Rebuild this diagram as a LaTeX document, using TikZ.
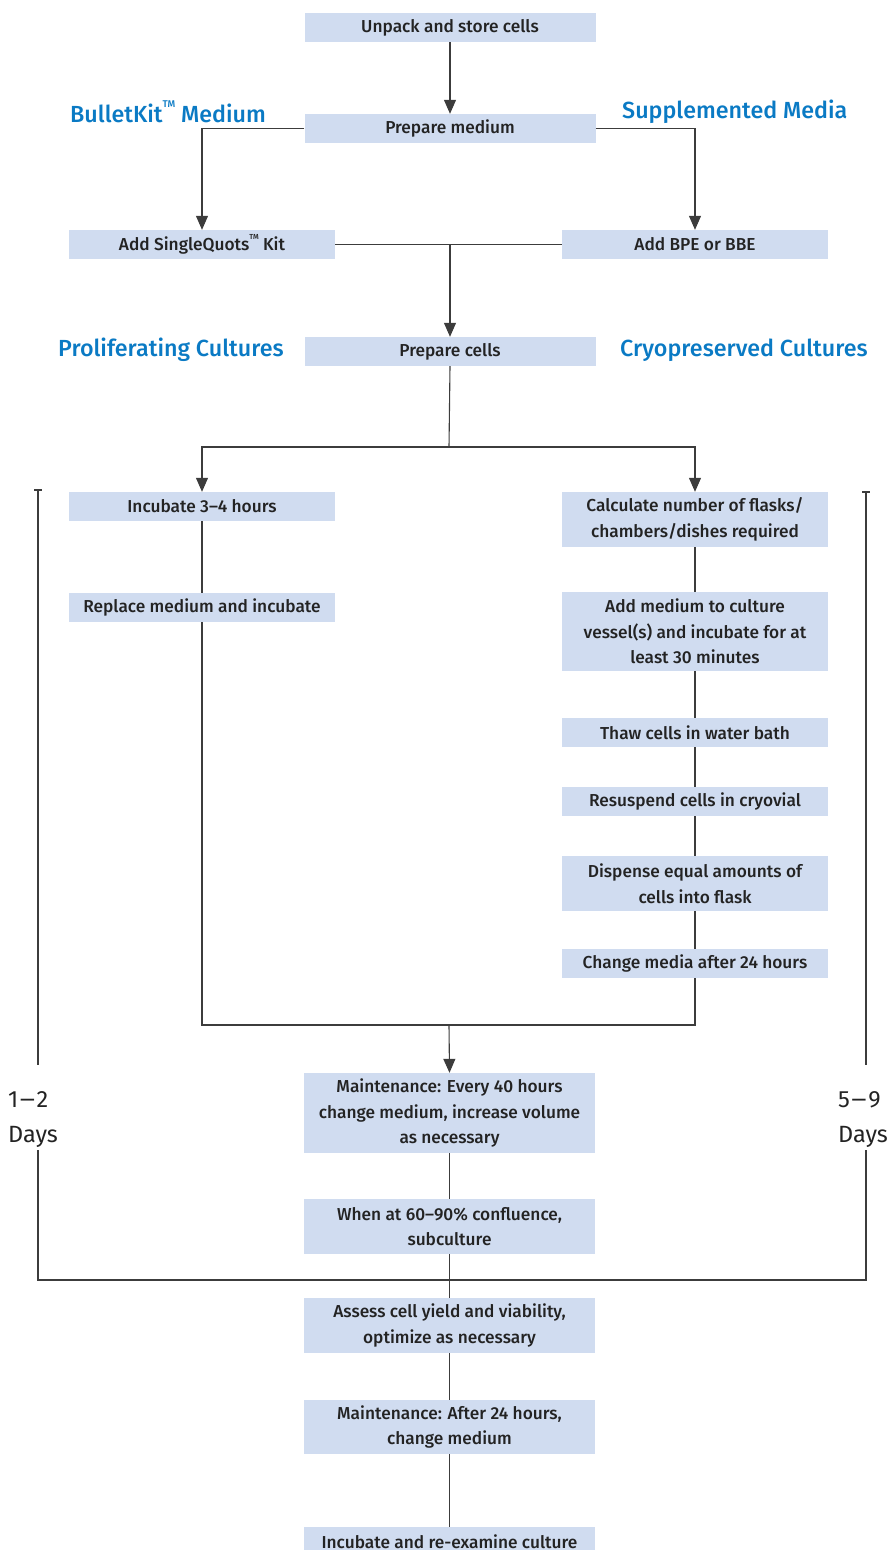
\documentclass[tikz,border=0pt]{standalone}
\usepackage{fontspec}
\usepackage{graphicx}
\setmainfont{Fira Sans}[UprightFont=* Medium]
\newfontfamily\daysfont{Fira Sans}
\usetikzlibrary{arrows.meta}
\newcommand{\tmark}{\raisebox{0.62em}{\scalebox{0.42}{TM}}}
\newcommand{\rdash}{\kern1.5pt\scalebox{1.25}[1]{–}\kern1.5pt}
\definecolor{boxfill}{RGB}{208,220,240}
\definecolor{linec}{RGB}{60,60,60}
\definecolor{titleblue}{RGB}{10,122,196}
\definecolor{textc}{RGB}{35,35,35}
\tikzset{
  stepbox/.style={fill=boxfill, draw=none, text=textc, align=center, inner sep=0pt,
    font=\fontsize{17.3}{25.5}\selectfont, minimum height=29pt},
  wbox/.style={stepbox, minimum width=291pt},
  sbox/.style={stepbox, minimum width=266pt},
  conn/.style={draw=linec, line width=1.1pt},
  arr/.style={conn, -{Triangle[width=12pt,length=14pt]}},
  titl/.style={text=titleblue, font=\fontsize{23.3}{26}\selectfont, anchor=west, inner sep=0pt},
  days/.style={text=textc, font=\daysfont\fontsize{23.5}{35}\selectfont, align=left, anchor=north west, inner sep=0pt}
}
\begin{document}
\begin{tikzpicture}[x=1pt,y=-1pt]
\useasboundingbox (0,0) rectangle (889,1550);
\begin{scope}
\clip (0,0) rectangle (889,1550);
% boxes
\node[wbox] (un) at (450,27.5) {Unpack and store cells};
\node[wbox] (pm) at (450,128.5) {Prepare medium};
\node[sbox] (sq) at (202,244.5) {Add SingleQuots\tmark{} Kit};
\node[sbox] (bpe) at (695,244.5) {Add BPE or BBE};
\node[wbox] (pc) at (450,351.5) {Prepare cells};
\node[sbox] (inc) at (202,506.5) {Incubate 3–4 hours};
\node[sbox] (rep) at (202,607.5) {Replace medium and incubate};
\node[sbox, minimum height=55pt] (calc) at (695,519.5) {Calculate number of flasks/\\chambers/dishes required};
\node[sbox, minimum height=79pt] (am) at (695,631.5) {Add medium to culture\\vessel(s) and incubate for at\\least 30 minutes};
\node[sbox] (thaw) at (695,732.5) {Thaw cells in water bath};
\node[sbox] (res) at (695,801.5) {Resuspend cells in cryovial};
\node[sbox, minimum height=55pt] (disp) at (695,883.5) {Dispense equal amounts of\\cells into flask};
\node[sbox] (chg) at (695,963.5) {Change media after 24 hours};
\node[wbox, minimum height=80pt] (mt) at (449.5,1113) {Maintenance: Every 40 hours\\change medium, increase volume\\as necessary};
\node[wbox, minimum height=55pt] (wh) at (449.5,1226.5) {When at 60–90\% confluence,\\subculture};
\node[wbox, minimum height=55pt] (as) at (449.5,1325.5) {Assess cell yield and viability,\\optimize as necessary};
\node[wbox, minimum height=54pt] (m24) at (449.5,1427) {Maintenance: After 24 hours,\\change medium};
\node[wbox] (ire) at (449.5,1541.5) {Incubate and re-examine culture};
% titles
\node[titl] (tbk) at (70,112) {BulletKit\tmark{} Medium};
\node[titl] (tsm) at (622,112) {Supplemented Media};
\node[titl] (tpc) at (58,350) {Proliferating Cultures};
\node[titl] (tcc) at (620,350) {Cryopreserved Cultures};
% day labels
\node[days] (d12) at (8,1091) {1\rdash 2\\Days};
\node[days] (d59) at (838,1091) {5\rdash 9\\Days};
% coordinates
\coordinate (split) at (449,447);
\coordinate (join) at (449,1025);
\coordinate (lt) at (38,490);
\coordinate (rt) at (866,492);
\coordinate (lb) at (38,1065);
\coordinate (rb) at (866,1065);
\coordinate (lc) at (38,1150);
\coordinate (rc) at (866,1150);
\coordinate (bl) at (38,1280);
\coordinate (br) at (866,1280);
% connectors
\draw[arr] (un.south) -- (pm.north);
\draw[arr] (pm.west) -| (sq.north);
\draw[arr] (pm.east) -| (bpe.north);
\draw[conn] (sq.east) -- (bpe.west);
\draw[arr] (sq.east -| pc.north) -- (pc.north);
\draw[conn] (pc.south) -- (split);
\draw[arr] (split) -| (inc.north);
\draw[arr] (split) -| (calc.north);
\draw[conn] (inc.south) -- (rep.north);
\draw[conn] (rep.south) -- (rep.south |- join) -- (chg.south |- join) -- (chg.south);
\draw[conn] (calc.south) -- (am.north);
\draw[conn] (am.south) -- (thaw.north);
\draw[conn] (thaw.south) -- (res.north);
\draw[conn] (res.south) -- (disp.north);
\draw[conn] (disp.south) -- (chg.north);
\draw[arr] (join) -- (mt.north);
\draw[conn] (mt.south) -- (wh.north);
\draw[conn] (wh.south) -- (as.north);
\draw[conn] (as.south) -- (m24.north);
\draw[conn] (m24.south) -- (ire.north);
% day brackets
\draw[conn] (lt) -- (lb);
\draw[conn] ([xshift=-4pt]lt) -- ([xshift=4pt]lt);
\draw[conn] (rt) -- (rb);
\draw[conn] ([xshift=-4pt]rt) -- ([xshift=4pt]rt);
\draw[conn] (lc) -- (bl) -- (br) -- (rc);
\end{scope}
\end{tikzpicture}
\end{document}
